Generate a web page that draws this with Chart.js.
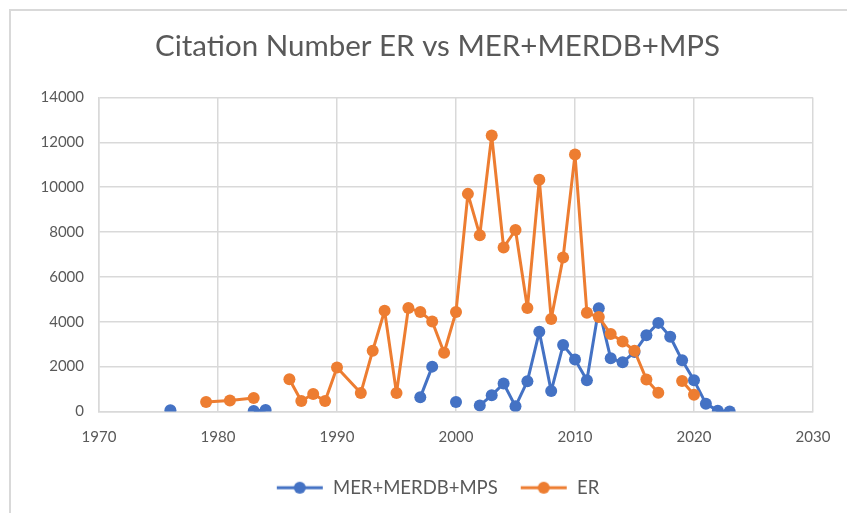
<!DOCTYPE html>
<html>
<head>
<meta charset="utf-8">
<script src="https://cdn.jsdelivr.net/npm/chart.js@4/dist/chart.umd.min.js"></script>
<style>
  html, body { margin: 0; padding: 0; background: #fff; }
  #wrap { position: relative; width: 847px; height: 513px; }
  #frame { position: absolute; left: 9px; top: 9px; width: 860px; height: 530px;
           border: 2px solid #d9d9d9; pointer-events: none; }
</style>
</head>
<body>
<div id="wrap">
  <canvas id="chart" width="847" height="513"></canvas>
  <div id="frame"></div>
</div>
<script>
// Años (eje X) y citas por serie; null = sin dato en ese año
const years = [1976, 1979, 1981, 1983, 1984, 1986, 1987, 1988, 1989, 1990,
               1992, 1993, 1994, 1995, 1996, 1997, 1998, 1999, 2000, 2001,
               2002, 2003, 2004, 2005, 2006, 2007, 2008, 2009, 2010, 2011,
               2012, 2013, 2014, 2015, 2016, 2017, 2018, 2019, 2020, 2021,
               2022, 2023];

const merValues = [60, null, null, 20, 70, null, null, null, null, null,
                   null, null, null, null, null, 630, 2000, null, 420, null,
                   270, 720, 1250, 230, 1350, 3550, 910, 2960, 2320, 1390,
                   4600, 2370, 2190, 2650, 3400, 3950, 3330, 2280, 1390, 350,
                   30, 0];

const erValues = [null, 420, 490, 600, null, 1440, 470, 780, 470, 1960,
                  820, 2710, 4490, 820, 4610, 4440, 4010, 2620, 4440, 9700,
                  7860, 12300, 7310, 8090, 4610, 10330, 4120, 6860, 11450, 4400,
                  4210, 3450, 3120, 2710, 1430, 840, null, 1360, 750, null,
                  null, null];

const seriesNames = ['MER+MERDB+MPS', 'ER'];
const xTicks = [1970, 1980, 1990, 2000, 2010, 2020, 2030];
const yTicks = [0, 2000, 4000, 6000, 8000, 10000, 12000, 14000];

const BLUE = '#4472c4';
const ORANGE = '#ed7d31';
const TEXT = '#595959';
const GRID = '#d9d9d9';
const FONT = 'Lato, "Open Sans", sans-serif';

function toPoints(vals) {
    return years.map((y, i) => ({ x: y, y: vals[i] }));
}

// Icono de leyenda estilo Excel: línea con marcador
function legendIcon(color) {
    const c = document.createElement('canvas');
    c.width = 48; c.height = 14;
    const g = c.getContext('2d');
    g.strokeStyle = color;
    g.lineWidth = 3;
    g.beginPath(); g.moveTo(1, 7); g.lineTo(47, 7); g.stroke();
    g.fillStyle = color;
    g.beginPath(); g.arc(24, 7, 6, 0, Math.PI * 2); g.fill();
    return c;
}

const icons = [legendIcon(BLUE), legendIcon(ORANGE)];

function makeDataset(label, vals, color, order) {
    return {
        label: label,
        data: toPoints(vals),
        borderColor: color,
        backgroundColor: color,
        borderWidth: 3,
        borderJoinStyle: 'round',
        pointRadius: 6,
        pointHoverRadius: 6,
        pointBorderWidth: 0,
        pointBackgroundColor: color,
        tension: 0,
        spanGaps: false,
        order: order
    };
}

new Chart(document.getElementById('chart').getContext('2d'), {
    type: 'line',
    data: {
        datasets: [
            makeDataset(seriesNames[0], merValues, BLUE, 1),
            makeDataset(seriesNames[1], erValues, ORANGE, 0)
        ]
    },
    options: {
        responsive: false,
        animation: false,
        layout: { padding: { left: 31, right: 3, top: 0, bottom: 6 } },
        scales: {
            x: {
                type: 'linear',
                min: 1970,
                max: 2030,
                afterBuildTicks: s => { s.ticks = xTicks.map(v => ({ value: v })); },
                afterFit: s => { s.height = 45; s.paddingRight = 34; },
                grid: { color: GRID, lineWidth: 1.5, drawTicks: false },
                border: { color: GRID, width: 1.5 },
                ticks: { color: TEXT, font: { family: FONT, size: 15 }, padding: 17,
                         maxRotation: 0, callback: v => String(v) }
            },
            y: {
                min: 0,
                max: 14000,
                afterBuildTicks: s => { s.ticks = yTicks.map(v => ({ value: v })); },
                afterFit: s => { s.width = 68; },
                grid: { color: GRID, lineWidth: 1.5, drawTicks: false },
                border: { color: GRID, width: 1.5 },
                ticks: { color: TEXT, font: { family: FONT, size: 15 }, padding: 15,
                         callback: v => String(v) }
            }
        },
        plugins: {
            title: {
                display: true,
                text: 'Citation Number ER vs MER+MERDB+MPS',
                color: TEXT,
                font: { family: FONT, size: 29.5, weight: 'normal' },
                padding: { top: 29, bottom: 33 }
            },
            legend: {
                position: 'bottom',
                labels: {
                    color: TEXT,
                    font: { family: FONT, size: 18.5 },
                    usePointStyle: true,
                    pointStyleWidth: 48,
                    padding: 22,
                    sort: (a, b) => a.datasetIndex - b.datasetIndex,
                    generateLabels: chart => {
                        const items = Chart.defaults.plugins.legend.labels.generateLabels(chart);
                        items.forEach(it => { it.pointStyle = icons[it.datasetIndex]; });
                        return items;
                    }
                }
            },
            tooltip: { enabled: false }
        }
    }
});
</script>
</body>
</html>
